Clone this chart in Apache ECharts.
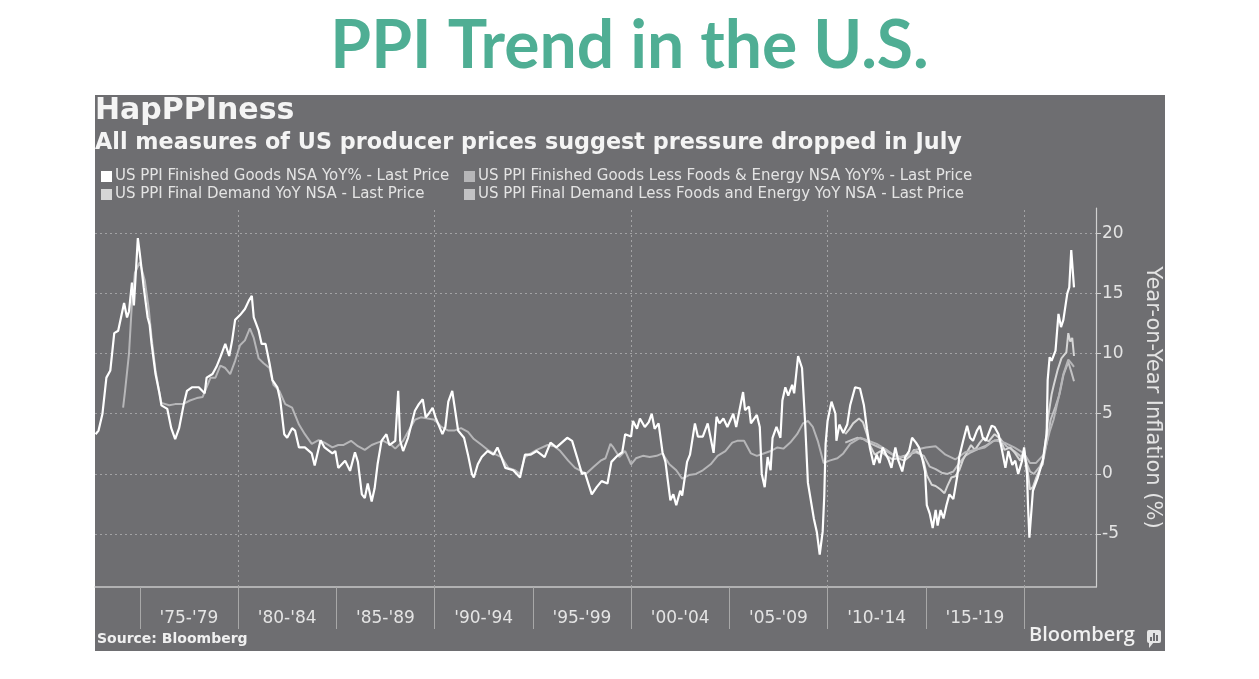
<!DOCTYPE html>
<html>
<head>
<meta charset="utf-8">
<script src="https://cdn.jsdelivr.net/npm/echarts@6/dist/echarts.min.js"></script>
<style>
html,body{margin:0;padding:0;background:#ffffff;}
#chart{width:1259px;height:679px;}
</style>
</head>
<body>
<div id="chart"></div>
<script>
// ---------- data (decimal year, YoY %) ----------
const seriesNames = [
  'US PPI Finished Goods NSA YoY% - Last Price',
  'US PPI Finished Goods Less Foods & Energy NSA YoY% - Last Price',
  'US PPI Final Demand YoY NSA - Last Price',
  'US PPI Final Demand Less Foods and Energy YoY NSA - Last Price'
];

const finishedGoods = [
  [1972.75,3.3],[1972.9,3.6],[1973.1,5.0],[1973.3,8.0],[1973.5,8.6],[1973.7,11.7],[1973.9,11.9],[1974.2,14.2],[1974.35,13.0],[1974.45,13.5],
  [1974.6,15.9],[1974.7,14.0],[1974.9,19.6],[1975.0,18.3],[1975.2,15.5],[1975.4,13.0],[1975.5,12.4],[1975.6,10.8],[1975.8,8.3],[1976.0,6.7],
  [1976.1,5.7],[1976.4,5.4],[1976.6,3.8],[1976.8,2.9],[1977.0,3.8],[1977.25,5.9],[1977.4,6.9],[1977.65,7.2],[1978.0,7.2],[1978.3,6.7],
  [1978.4,8.0],[1978.7,8.3],[1978.9,8.9],[1979.1,9.7],[1979.35,10.8],[1979.55,9.8],[1979.7,11.1],[1979.85,12.8],[1980.1,13.2],[1980.35,13.7],
  [1980.55,14.4],[1980.7,14.8],[1980.8,13.0],[1981.05,11.9],[1981.2,10.8],[1981.4,10.8],[1981.6,9.2],[1981.75,7.8],[1982.0,7.2],[1982.15,6.1],
  [1982.35,3.3],[1982.5,3.0],[1982.75,3.8],[1982.9,3.6],[1983.1,2.2],[1983.4,2.2],[1983.75,1.7],[1983.9,0.7],[1984.2,2.8],[1984.4,2.2],
  [1984.8,1.7],[1984.95,1.9],[1985.1,0.5],[1985.45,1.1],[1985.7,0.25],[1985.95,1.8],[1986.1,1.0],[1986.3,-1.7],[1986.45,-2.0],[1986.6,-0.8],
  [1986.8,-2.3],[1986.95,-1.2],[1987.1,0.8],[1987.3,2.75],[1987.55,3.3],[1987.7,2.4],[1988.0,2.75],[1988.15,6.9],[1988.25,2.75],[1988.4,1.9],
  [1988.65,3.0],[1989.0,5.25],[1989.2,5.8],[1989.4,6.2],[1989.55,4.7],[1989.7,5.0],[1989.9,5.5],[1990.05,4.7],[1990.4,3.3],[1990.55,3.9],
  [1990.7,6.0],[1990.9,6.9],[1991.0,5.8],[1991.2,3.6],[1991.5,3.0],[1991.7,1.6],[1991.9,0.0],[1992.0,-0.3],[1992.2,0.8],[1992.4,1.4],
  [1992.7,1.9],[1993.0,1.6],[1993.2,2.2],[1993.4,1.4],[1993.6,0.5],[1994.0,0.3],[1994.35,-0.3],[1994.6,1.6],[1994.9,1.6],[1995.2,1.9],
  [1995.6,1.4],[1995.9,2.6],[1996.2,2.2],[1996.75,3.0],[1997.0,2.75],[1997.25,1.4],[1997.5,0.0],[1997.65,0.1],[1998.0,-1.7],[1998.25,-1.1],
  [1998.5,-0.6],[1998.8,-0.8],[1999.0,1.0],[1999.3,1.5],[1999.55,1.8],[1999.7,3.3],[2000.0,3.1],[2000.1,4.4],[2000.3,3.75],[2000.45,4.6],
  [2000.7,3.9],[2000.9,4.3],[2001.05,5.0],[2001.2,3.75],[2001.4,4.2],[2001.6,1.8],[2001.75,1.0],[2002.0,-2.2],[2002.15,-1.7],[2002.3,-2.6],
  [2002.5,-1.4],[2002.6,-1.8],[2002.85,1.0],[2003.0,1.6],[2003.25,4.2],[2003.4,3.1],[2003.65,3.1],[2003.9,4.2],[2004.2,1.75],[2004.35,4.75],
  [2004.5,4.2],[2004.7,4.6],[2004.9,3.9],[2005.2,5.0],[2005.35,3.9],[2005.7,6.8],[2005.8,5.3],[2006.0,5.6],[2006.1,4.2],[2006.4,4.9],
  [2006.55,3.9],[2006.65,0.0],[2006.8,-1.1],[2006.95,1.4],[2007.1,0.3],[2007.2,3.0],[2007.4,3.9],[2007.6,3.0],[2007.7,6.1],[2007.85,7.2],
  [2008.0,6.5],[2008.2,7.4],[2008.3,6.7],[2008.5,9.8],[2008.7,8.8],[2008.85,4.5],[2009.0,-0.75],[2009.3,-3.7],[2009.45,-4.8],[2009.6,-6.7],
  [2009.75,-4.8],[2009.83,-1.9],[2009.9,2.5],[2010.0,4.4],[2010.2,6.0],[2010.4,5.0],[2010.45,2.75],[2010.6,4.1],[2010.8,3.4],[2011.0,4.1],
  [2011.15,5.7],[2011.3,6.6],[2011.4,7.2],[2011.65,7.1],[2011.85,5.7],[2012.0,3.8],[2012.15,2.2],[2012.35,0.75],[2012.5,1.6],[2012.65,0.9],
  [2012.8,2.2],[2013.1,1.2],[2013.25,0.5],[2013.45,2.2],[2013.6,1.1],[2013.8,0.2],[2013.95,1.4],[2014.15,1.9],[2014.3,3.0],[2014.5,2.6],
  [2014.65,2.2],[2014.8,1.4],[2014.96,0.2],[2015.05,-2.6],[2015.2,-3.3],[2015.35,-4.5],[2015.5,-3.0],[2015.6,-4.3],[2015.75,-3.0],[2015.9,-3.7],
  [2016.05,-2.6],[2016.2,-1.7],[2016.4,-2.1],[2016.6,-0.2],[2016.7,1.4],[2016.9,2.75],[2017.1,4.0],[2017.25,3.0],[2017.4,2.75],[2017.6,3.6],
  [2017.75,4.0],[2017.9,3.0],[2018.05,2.75],[2018.35,4.0],[2018.5,3.9],[2018.7,3.3],[2018.85,2.2],[2019.05,0.5],[2019.2,1.9],[2019.4,0.75],
  [2019.55,1.1],[2019.7,0.0],[2019.9,1.1],[2020.0,2.2],[2020.15,0.0],[2020.2,-2.6],[2020.27,-5.3],[2020.45,-1.4],[2020.7,-0.3],[2020.95,1.1],
  [2021.15,3.3],[2021.2,7.8],[2021.3,9.7],[2021.4,9.4],[2021.6,10.25],[2021.75,13.3],[2021.88,12.2],[2022.0,12.8],[2022.2,15.0],[2022.3,15.5],
  [2022.4,18.6],[2022.54,15.5]
];

const finishedGoodsCore = [
  [1974.15,5.5],[1974.25,6.9],[1974.45,10.0],[1974.6,14.2],[1974.75,16.7],[1975.0,17.6],[1975.25,16.1],[1975.45,13.8],[1975.6,11.3],[1975.8,8.6],
  [1976.0,6.7],[1976.1,5.9],[1976.5,5.7],[1976.8,5.8],[1977.2,5.8],[1977.55,6.1],[1977.9,6.3],[1978.2,6.4],[1978.6,8.0],[1978.85,8.0],
  [1979.1,9.0],[1979.35,8.8],[1979.6,8.3],[1979.85,9.4],[1980.1,10.7],[1980.35,11.1],[1980.6,12.1],[1980.8,11.3],[1981.05,9.6],[1981.3,9.2],
  [1981.6,8.8],[1981.8,7.4],[1982.1,6.9],[1982.4,5.8],[1982.75,5.5],[1983.1,4.1],[1983.4,3.3],[1983.75,2.5],[1984.1,2.8],[1984.4,2.6],
  [1984.8,2.2],[1985.1,2.4],[1985.35,2.4],[1985.75,2.75],[1986.1,2.3],[1986.45,2.0],[1986.8,2.4],[1987.1,2.6],[1987.4,2.75],[1987.8,2.4],
  [1988.0,2.1],[1988.4,2.75],[1988.65,3.5],[1989.0,4.5],[1989.3,4.7],[1989.65,4.6],[1990.0,4.5],[1990.35,3.9],[1990.7,3.6],[1991.0,3.6],
  [1991.35,3.8],[1991.7,3.5],[1992.0,2.9],[1992.4,2.4],[1992.7,2.0],[1993.0,1.7],[1993.4,1.4],[1993.75,0.5],[1994.1,0.3],[1994.35,0.0],
  [1994.6,1.4],[1994.9,1.7],[1995.2,2.0],[1995.75,2.4],[1996.1,2.3],[1996.4,1.9],[1996.8,1.1],[1997.15,0.5],[1997.4,0.3],[1997.7,0.0],
  [1998.1,0.6],[1998.45,1.1],[1998.7,1.3],[1998.95,2.5],[1999.1,2.2],[1999.4,1.4],[1999.7,1.9],[2000.0,0.8],[2000.25,1.3],[2000.6,1.5],
  [2000.95,1.4],[2001.3,1.5],[2001.6,1.7],[2001.95,0.8],[2002.3,0.3],[2002.6,-0.4],[2002.95,-0.1],[2003.3,0.0],[2003.65,0.3],[2004.05,0.8],
  [2004.4,1.5],[2004.8,1.9],[2005.15,2.6],[2005.4,2.75],[2005.75,2.75],[2006.1,1.7],[2006.4,1.5],[2006.75,1.7],[2007.1,1.9],[2007.45,2.2],
  [2007.75,2.1],[2008.1,2.6],[2008.45,3.3],[2008.75,4.2],[2009.0,4.4],[2009.25,3.9],[2009.5,2.75],[2009.8,0.9],[2010.1,1.1],[2010.5,1.3],
  [2010.8,1.7],[2011.15,2.5],[2011.65,3.0],[2012.1,2.75],[2012.5,2.5],[2013.0,2.0],[2013.5,1.4],[2014.0,1.4],[2014.5,2.0],[2015.0,2.2],
  [2015.5,2.3],[2016.0,1.6],[2016.5,1.2],[2017.0,1.8],[2017.5,2.0],[2018.0,2.2],[2018.5,2.8],[2019.0,2.6],[2019.5,2.2],[2020.0,1.7],
  [2020.3,0.9],[2020.6,0.9],[2021.0,1.6],[2021.3,3.5],[2021.5,4.5],[2021.75,6.3],[2022.0,8.3],[2022.25,9.5],[2022.4,9.2],[2022.54,8.9]
];

const finalDemand = [
  [2010.9,3.3],[2011.1,3.7],[2011.3,4.2],[2011.6,4.6],[2011.8,4.3],[2012.0,3.3],[2012.15,2.4],[2012.4,1.6],[2012.7,1.9],[2013.0,1.5],
  [2013.3,1.2],[2013.6,1.3],[2013.9,1.1],[2014.2,1.5],[2014.4,2.0],[2014.7,1.7],[2014.9,1.0],[2015.05,-0.1],[2015.3,-0.9],[2015.5,-1.0],
  [2015.75,-1.3],[2015.95,-1.6],[2016.1,-1.0],[2016.3,-0.3],[2016.5,-0.2],[2016.7,0.3],[2016.9,1.2],[2017.1,1.8],[2017.3,2.4],[2017.5,2.0],
  [2017.75,2.6],[2017.95,3.0],[2018.2,2.7],[2018.5,3.3],[2018.8,2.9],[2019.0,2.0],[2019.3,2.2],[2019.55,1.7],[2019.8,1.1],[2020.0,2.0],
  [2020.15,0.7],[2020.3,-1.3],[2020.45,-1.1],[2020.6,-0.4],[2020.8,0.4],[2020.95,0.8],[2021.1,2.8],[2021.25,5.0],[2021.4,6.6],[2021.5,7.3],
  [2021.7,8.6],[2021.9,9.6],[2022.0,9.8],[2022.15,10.1],[2022.25,11.7],[2022.35,11.0],[2022.45,11.3],[2022.54,9.8]
];

const finalDemandCore = [
  [2010.9,2.6],[2011.2,2.8],[2011.5,3.0],[2011.8,2.9],[2012.1,2.6],[2012.5,2.3],[2012.9,2.0],[2013.3,1.6],[2013.7,1.4],[2014.1,1.6],
  [2014.5,1.8],[2014.9,1.5],[2015.2,0.6],[2015.5,0.4],[2015.8,0.1],[2016.1,0.0],[2016.4,0.2],[2016.7,0.9],[2017.0,1.5],[2017.3,1.8],
  [2017.7,2.1],[2018.0,2.3],[2018.4,2.7],[2018.8,2.9],[2019.1,2.3],[2019.5,1.9],[2019.8,1.5],[2020.0,1.4],[2020.3,0.2],[2020.5,0.0],
  [2020.8,0.6],[2021.0,1.3],[2021.2,3.0],[2021.35,4.5],[2021.6,5.6],[2021.8,6.6],[2022.0,8.2],[2022.25,9.3],[2022.4,8.5],[2022.54,7.7]
];

// axis ticks / labels
const bandStarts = [1975,1980,1985,1990,1995,2000,2005,2010,2015];
const bandLabels = ["'75-'79","'80-'84","'85-'89","'90-'94","'95-'99","'00-'04","'05-'09","'10-'14","'15-'19"];
const bandEdges = [1975,1980,1985,1990,1995,2000,2005,2010,2015,2020];
const decadeLines = [1980,1990,2000,2010,2020];
const yTicks = [-5,0,5,10,15,20];

// ---------- chart ----------
const chart = echarts.init(document.getElementById('chart'), null, {renderer:'canvas'});
const PANEL = '#6e6e71';
const TXT = '#e4e4e4';
const GRIDC = '#a2a2a4';

const colors = ['#ffffff', '#b6b6b8', '#d6d6d6', '#c2c2c4'];
const dataSets = [finishedGoods, finishedGoodsCore, finalDemand, finalDemandCore];

const series = [3,2,1,0].map(i => ({
  name: seriesNames[i],
  type: 'line',
  data: dataSets[i],
  showSymbol: false,
  symbol: 'none',
  smooth: false,
  z: 10 + (i === 0 ? 5 : 3 - i),
  lineStyle: {color: colors[i], width: i === 0 ? 2.2 : 2},
  itemStyle: {color: colors[i]},
  animation: false
}));

// vertical decade gridlines
series.push({
  name: 'grid-v',
  type: 'line',
  data: [],
  z: 1,
  markLine: {
    silent: true,
    symbol: 'none',
    label: {show: false},
    animation: false,
    lineStyle: {color: GRIDC, type: [2, 3], width: 1},
    data: decadeLines.map(v => ({xAxis: v}))
  }
});

const option = {
  backgroundColor: '#ffffff',
  animation: false,
  graphic: [
    {type: 'rect', z: -10, shape: {x: 95, y: 95, width: 1070, height: 556}, style: {fill: PANEL}},
    {type: 'rect', z: 100, shape: {x: 1147, y: 630, width: 14, height: 13, r: 2}, style: {fill: '#e6e6e6'}},
    {type: 'polygon', z: 100, shape: {points: [[1149,642],[1149,648],[1154,642]]}, style: {fill: '#e6e6e6'}},
    {type: 'rect', z: 101, shape: {x: 1150, y: 637, width: 2, height: 4}, style: {fill: PANEL}},
    {type: 'rect', z: 101, shape: {x: 1153, y: 633, width: 2, height: 8}, style: {fill: PANEL}},
    {type: 'rect', z: 101, shape: {x: 1156, y: 635, width: 2, height: 6}, style: {fill: PANEL}}
  ],
  title: [
    {text: 'PPI Trend in the U.S.', left: 'center', top: 14, padding: 0,
     textStyle: {color: '#4fae94', fontFamily: 'Lato', fontWeight: 'bold', fontSize: 66}},
    {text: 'HapPPIness', left: 95, top: 96, padding: 0,
     textStyle: {color: '#f4f4f4', fontFamily: 'DejaVu Sans', fontWeight: 'bold', fontSize: 30}},
    {text: 'All measures of US producer prices suggest pressure dropped in July', left: 95, top: 132, padding: 0,
     textStyle: {color: '#f4f4f4', fontFamily: 'DejaVu Sans', fontWeight: 'bold', fontSize: 22.3}},
    {text: 'Source: Bloomberg', left: 97, top: 632, padding: 0,
     textStyle: {color: '#f0f0f0', fontFamily: 'DejaVu Sans', fontWeight: 'bold', fontSize: 14}},
    {text: 'Bloomberg', left: 1029, top: 625, padding: 0,
     textStyle: {color: '#f0f0f0', fontFamily: 'Open Sans', fontWeight: 600, fontSize: 20}}
  ],
  legend: [
    {data: [seriesNames[0], seriesNames[2]], orient: 'vertical', left: 101, top: 169, padding: 0,
     itemGap: 3, itemWidth: 11, itemHeight: 11, icon: 'rect',
     textStyle: {color: TXT, fontFamily: 'DejaVu Sans', fontSize: 15, padding: [0,0,0,-2]}},
    {data: [seriesNames[1], seriesNames[3]], orient: 'vertical', left: 464, top: 169, padding: 0,
     itemGap: 3, itemWidth: 11, itemHeight: 11, icon: 'rect',
     textStyle: {color: TXT, fontFamily: 'DejaVu Sans', fontSize: 15, padding: [0,0,0,-2]}}
  ],
  grid: {left: 95, right: 163, top: 208, bottom: 92, containLabel: false},
  xAxis: {
    type: 'value',
    min: 1972.72,
    max: 2023.66,
    axisLine: {show: true, onZero: false, lineStyle: {color: '#c8c8c8', width: 1.5}},
    axisTick: {show: true, customValues: bandEdges, length: 42, lineStyle: {color: '#a8a8a8', width: 1}},
    axisLabel: {
      customValues: bandStarts.map(v => v + 2.5),
      color: TXT, fontFamily: 'DejaVu Sans', fontSize: 17, margin: 23,
      formatter: v => {
        const i = bandStarts.findIndex(s => Math.abs(s + 2.5 - v) < 1e-6);
        return i >= 0 ? bandLabels[i] : '';
      }
    },
    splitLine: {show: false}
  },
  yAxis: {
    type: 'value',
    position: 'right',
    min: -9.4,
    max: 22.1,
    name: 'Year-on-Year Inflation (%)',
    nameLocation: 'middle',
    nameRotate: -90,
    nameGap: 46,
    nameTextStyle: {color: TXT, fontFamily: 'DejaVu Sans', fontSize: 21},
    axisLine: {show: true, lineStyle: {color: '#d0d0d0', width: 1.2}},
    axisTick: {show: true, customValues: yTicks, length: 5, lineStyle: {color: '#d0d0d0'}},
    axisLabel: {customValues: yTicks, color: TXT, fontFamily: 'DejaVu Sans', fontSize: 17, margin: 6},
    splitLine: {show: true, lineStyle: {color: GRIDC, type: [2, 3], width: 1}}
  },
  series: series
};
chart.setOption(option);
</script>
</body>
</html>
